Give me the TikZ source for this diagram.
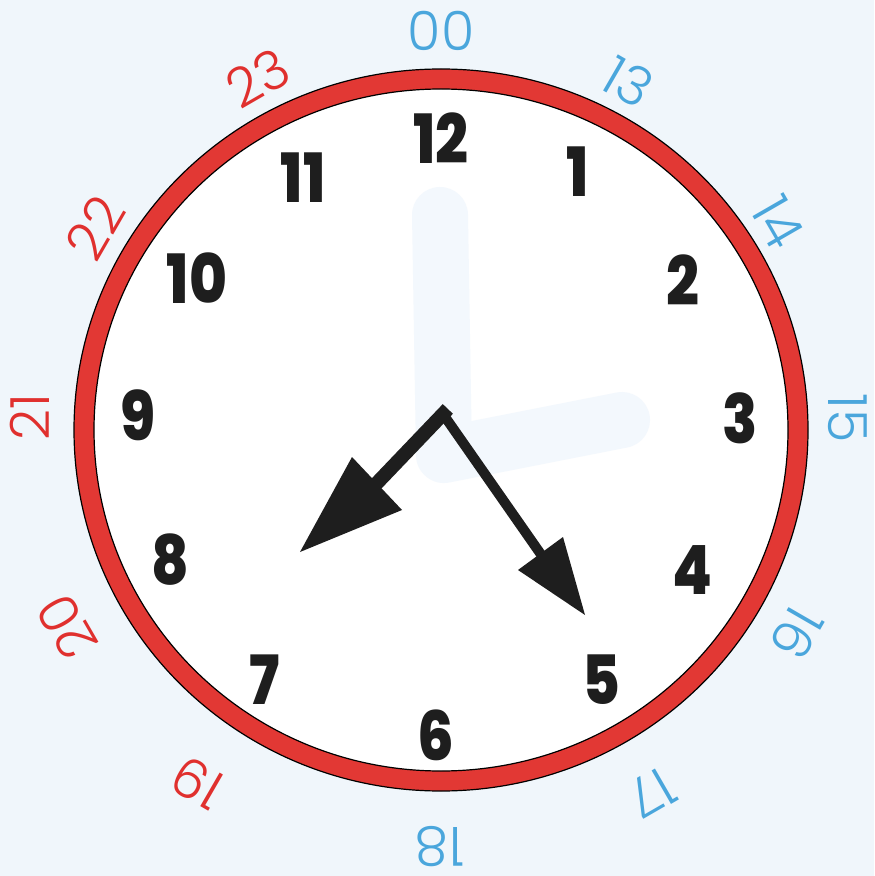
\documentclass[tikz,border=0pt]{standalone}
\usepackage{fontspec}
\newfontfamily\outerfont{Poppins Light}
\newfontfamily\innerfont{Poppins ExtraBold}
\definecolor{bgblue}{RGB}{240,246,251}
\definecolor{ghost}{RGB}{243,248,253}
\definecolor{ringred}{RGB}{226,56,52}
\definecolor{hourblue}{RGB}{74,166,220}
\definecolor{hourred}{RGB}{224,48,46}
\definecolor{handblack}{RGB}{30,30,30}
\begin{document}
\begin{tikzpicture}[x=0.5pt,y=-0.5pt,
  inner/.style={font=\innerfont\fontsize{34}{34}\selectfont, text=handblack, xscale=0.85, inner sep=0pt},
  outb/.style={font=\outerfont\fontsize{27}{27}\selectfont, text=hourblue, inner sep=0pt},
  outr/.style={font=\outerfont\fontsize{27}{27}\selectfont, text=hourred, inner sep=0pt},
  hand/.style={draw=handblack, line cap=rect},
  head/.style={fill=handblack}]
\fill[bgblue] (0,0) rectangle (874,876);
\useasboundingbox (0,0) rectangle (874,876);
% face and ring
\coordinate (c) at (441,430);
\fill[white] (c) ellipse [x radius=356, y radius=351];
\draw[ringred, line width=10pt] (c) ellipse [x radius=357, y radius=351];
\draw[black, line width=0.6pt] (c) ellipse [x radius=367, y radius=361];
\draw[black, line width=0.6pt] (c) ellipse [x radius=347, y radius=341];
% ghost hands
\draw[ghost, line width=28pt, line cap=round, line join=round] (440,215) -- (444,455) -- (622,420);
% inner numbers
\node[inner] (n12) at (441,138) {12};
\node[inner] (n1) at (578,172) {1};
\node[inner] (n2) at (683,280) {2};
\node[inner] (n3) at (740,418) {3};
\node[inner] (n4) at (692,570) {4};
\node[inner] (n5) at (601,680) {5};
\node[inner] (n6) at (436,735) {6};
\node[inner] (n7) at (265,680) {7};
\node[inner] (n8) at (170,560) {8};
\node[inner] (n9) at (138,415) {9};
\node[inner] (n10) at (197,278) {10};
\node[inner] (n11) at (303,178) {11};
% outer numbers
\node[outb, rotate=0] (o0) at (441,31) {00};
\node[outb, rotate=-30] (o13) at (628,82) {13};
\node[outb, rotate=-60] (o14) at (778,222) {14};
\node[outb, rotate=-90] (o15) at (848,418) {15};
\node[outb, rotate=-120] (o16) at (797,633) {16};
\node[outb, rotate=-150] (o17) at (652,793) {17};
\node[outb, rotate=180] (o18) at (440,847) {18};
\node[outr, rotate=150] (o19) at (198,783) {19};
\node[outr, rotate=120] (o20) at (67,627) {20};
\node[outr, rotate=90] (o21) at (30,417) {21};
\node[outr, rotate=60] (o22) at (95,228) {22};
\node[outr, rotate=30] (o23) at (258,78) {23};
% hands
\coordinate (pivot) at (443,414);
\coordinate (hbase) at (377,483);
\coordinate (mbase) at (540,553);
\coordinate (htip) at (300,552);
\coordinate (mtip) at (585,615);
\draw[hand, line width=7pt] (hbase) -- (pivot);
\draw[hand, line width=5pt] (pivot) -- (mbase);
\fill[head] (htip) -- (352,457) -- (402,510) -- cycle;
\fill[head] (mtip) -- (563,537) -- (518,570) -- cycle;
\end{tikzpicture}
\end{document}
